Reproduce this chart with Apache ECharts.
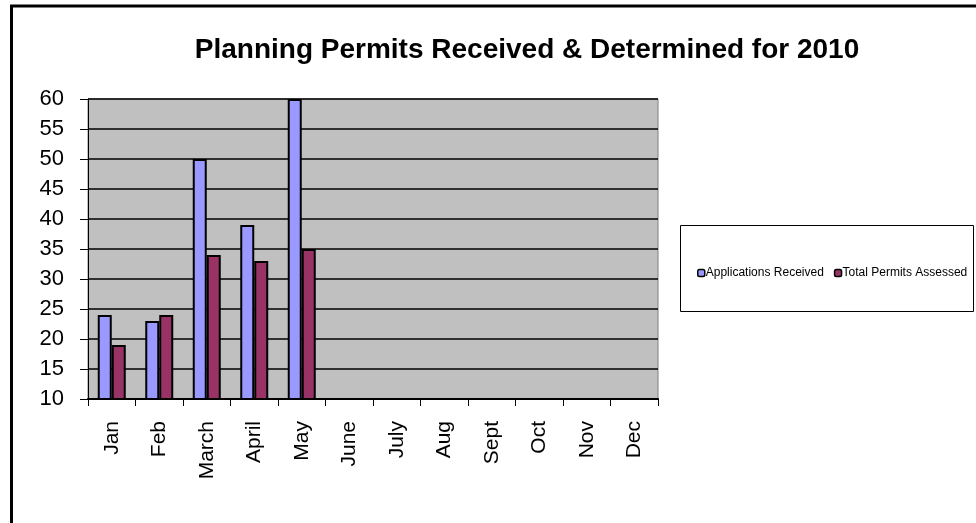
<!DOCTYPE html>
<html>
<head>
<meta charset="utf-8">
<script src="https://cdn.jsdelivr.net/npm/echarts@6/dist/echarts.min.js"></script>
<style>
  html, body { margin: 0; padding: 0; background: #fff; }
  #chart { width: 976px; height: 523px; }
</style>
</head>
<body>
<div id="chart"></div>
<script>
// data
var months = ['Jan', 'Feb', 'March', 'April', 'May', 'June', 'July', 'Aug', 'Sept', 'Oct', 'Nov', 'Dec'];
var received = [24, 23, 50, 39, 60, null, null, null, null, null, null, null];
var assessed = [19, 24, 34, 33, 35, null, null, null, null, null, null, null];

var chart = echarts.init(document.getElementById('chart'));
var font = 'Liberation Sans, Arial, sans-serif';

var option = {
    animation: false,
    backgroundColor: '#fff',
    title: {
        text: 'Planning Permits Received & Determined for 2010',
        left: 522,
        textAlign: 'center',
        top: 31,
        textStyle: { fontFamily: font, fontSize: 28, fontWeight: 'bold', color: '#000' }
    },
    graphic: [
        // outer frame
        { type: 'rect', shape: { x: 11.5, y: 6, width: 1000, height: 600 },
          style: { fill: 'none', stroke: '#000', lineWidth: 3 }, z: 100 },
        // legend box
        { type: 'rect', shape: { x: 680.5, y: 225.5, width: 293, height: 86 },
          style: { fill: '#fff', stroke: '#000', lineWidth: 1 }, z: 0 }
    ],
    legend: {
        left: 692,
        top: 262,
        itemWidth: 7,
        itemHeight: 7,
        itemGap: 10,
        textStyle: { fontFamily: font, fontSize: 12, color: '#000', padding: [0, 0, 0, -4] },
        data: [
            { name: 'Applications Received', itemStyle: { borderColor: '#000', borderWidth: 1.5 } },
            { name: 'Total Permits Assessed', itemStyle: { borderColor: '#000', borderWidth: 1.5 } }
        ]
    },
    grid: { left: 88, top: 99, width: 570, height: 300, show: true, backgroundColor: '#c0c0c0', borderColor: '#808080', borderWidth: 1 },
    xAxis: {
        type: 'category',
        data: months,
        axisLine: { lineStyle: { color: '#000', width: 2 } },
        axisTick: { show: true, length: 7, lineStyle: { color: '#000', width: 1 } },
        axisLabel: { rotate: 90, fontFamily: font, fontSize: 21, color: '#000', margin: 22 }
    },
    yAxis: {
        type: 'value',
        min: 10,
        max: 60,
        interval: 5,
        axisLine: { show: true, lineStyle: { color: '#000', width: 1 } },
        axisTick: { show: true, length: 8, lineStyle: { color: '#000' } },
        axisLabel: { fontFamily: font, fontSize: 22, color: '#000', margin: 24 },
        splitLine: { lineStyle: { color: '#000', width: 1.5 } }
    },
    series: [
        {
            name: 'Applications Received',
            type: 'bar',
            data: received,
            barWidth: 14,
            barGap: '0%',
            itemStyle: { color: '#9999ff', borderColor: '#000', borderWidth: 2 }
        },
        {
            name: 'Total Permits Assessed',
            type: 'bar',
            data: assessed,
            barWidth: 14,
            itemStyle: { color: '#993366', borderColor: '#000', borderWidth: 2 }
        }
    ]
};
chart.setOption(option);
</script>
</body>
</html>
